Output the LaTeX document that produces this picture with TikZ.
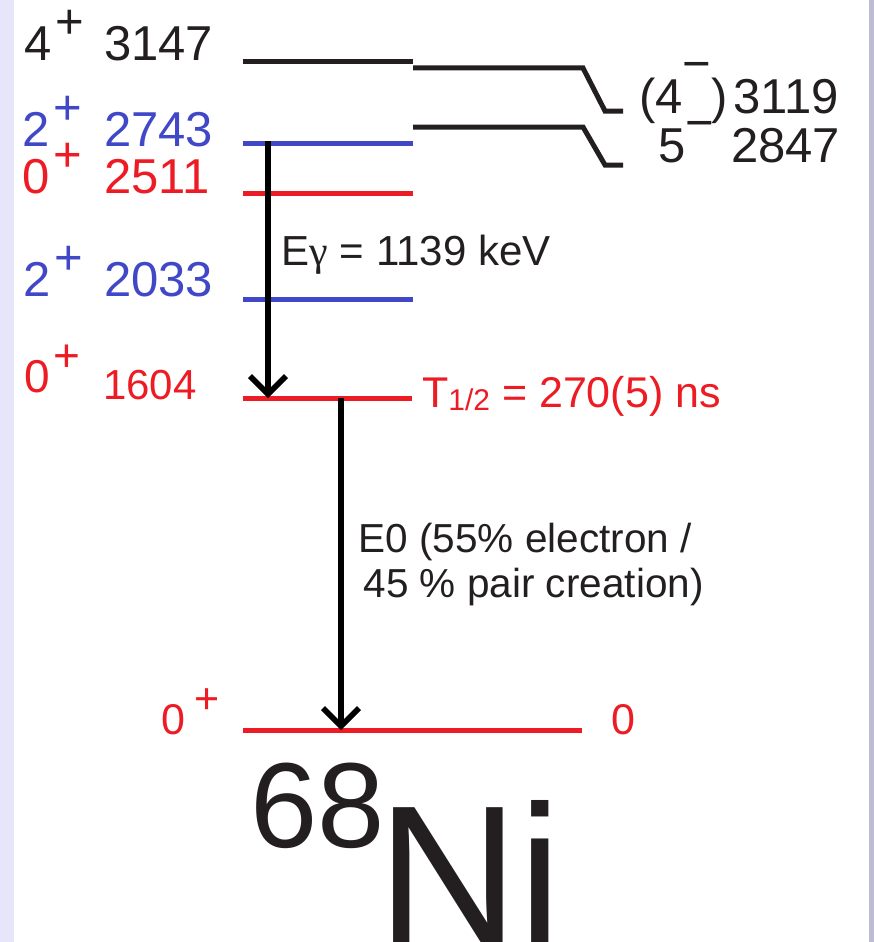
\documentclass[tikz,border=0pt]{standalone}
\usepackage{fontspec}
\setmainfont{Liberation Sans}
\newfontfamily\greekfont{Liberation Serif}
\usepackage{xcolor}
\usepackage{tikz}
\usetikzlibrary{arrows.meta}
\definecolor{lvlred}{RGB}{237,28,36}
\definecolor{lvlblue}{RGB}{64,72,200}
\definecolor{lvlblack}{RGB}{35,31,32}
\definecolor{edgeleft}{RGB}{230,230,250}
\definecolor{edgeright}{RGB}{190,188,212}
\newcommand{\jp}[2][0.44em]{\hspace{4pt}\raisebox{#1}{#2}}
\tikzset{
  level/.style={line width=5pt},
  lbl/.style={anchor=base west, inner sep=0pt, font=\fontsize{49}{49}\selectfont},
  gtrans/.style={line width=5.5pt, black, -{Straight Barb[length=18pt, width=36pt]}}
}

\begin{document}
\begin{tikzpicture}[x=1pt, y=-1pt]
    \useasboundingbox (0,0) rectangle (874,942);
    \fill[white] (0,0) rectangle (874,942);
    \fill[edgeleft] (0,0) rectangle (14,942);
    \fill[edgeright] (869,0) rectangle (874,942);
    \clip (0,0) rectangle (874,942);

    % level ends
    \coordinate (a3147) at (243,62);  \coordinate (b3147) at (413,62);
    \coordinate (a3119) at (413,68);  \coordinate (k3119) at (583,68);
    \coordinate (d3119) at (605,111); \coordinate (b3119) at (623,111);
    \coordinate (a2847) at (413,127); \coordinate (k2847) at (583,127);
    \coordinate (d2847) at (605,165); \coordinate (b2847) at (623,165);
    \coordinate (a2743) at (243,143); \coordinate (b2743) at (413,143);
    \coordinate (a2511) at (243,193); \coordinate (b2511) at (413,193);
    \coordinate (a2033) at (243,299); \coordinate (b2033) at (413,299);
    \coordinate (a1604) at (243,398); \coordinate (b1604) at (412,398);
    \coordinate (a0) at (243,730);    \coordinate (b0) at (582,730);

    \draw[level, lvlblack] (a3147) -- (b3147);
    \draw[level, lvlblack] (a3119) -- (k3119) -- (d3119) -- (b3119);
    \draw[level, lvlblack] (a2847) -- (k2847) -- (d2847) -- (b2847);
    \draw[level, lvlblue] (a2743) -- (b2743);
    \draw[level, lvlred] (a2511) -- (b2511);
    \draw[level, lvlblue] (a2033) -- (b2033);
    \draw[level, lvlred] (a1604) -- (b1604);
    \draw[level, lvlred] (a0) -- (b0);

    % transitions
    \coordinate (gfrom) at (268,141);
    \coordinate (gto) at (268,398);
    \coordinate (zfrom) at (341,398);
    \coordinate (zto) at (341,730);
    \draw[gtrans] (gfrom) -- (gto);
    \draw[gtrans] (zfrom) -- (zto);

    % spins and energies
    \node[lbl, lvlblack] (s3147) at (24,60) {4\jp{+}};
    \node[lbl, lvlblack] (e3147) at (104,60) {3147};
    \node[lbl, lvlblue] (s2743) at (22,146) {2\jp{+}};
    \node[lbl, lvlblue] (e2743) at (104,146) {2743};
    \node[lbl, lvlred] (s2511) at (22,193) {0\jp{+}};
    \node[lbl, lvlred] (e2511) at (104,193) {2511};
    \node[lbl, lvlblue] (s2033) at (23,296) {2\jp{+}};
    \node[lbl, lvlblue] (e2033) at (104,296) {2033};
    \node[lbl, lvlred, font=\fontsize{46}{46}\selectfont] (s1604) at (24,392) {0\jp{+}};
    \node[lbl, lvlred, font=\fontsize{42}{42}\selectfont] (e1604) at (103,399) {1604};
    \node[lbl, lvlred, font=\fontsize{43}{43}\selectfont] (s0) at (161,734) {0\hspace{5pt}\jp[0.47em]{+}};
    \node[lbl, lvlred, font=\fontsize{43}{43}\selectfont] (e0) at (611,734) {0};

    \node[lbl, lvlblack] (s3119) at (639,113) {(4\raisebox{0.66em}{−})};
    \node[lbl, lvlblack] (e3119) at (733,113) {3119};
    \node[lbl, lvlblack] (s2847) at (658,162) {5\raisebox{0.45em}{−}};
    \node[lbl, lvlblack] (e2847) at (731,162) {2847};

    % transition labels
    \node[lbl, lvlred, font=\fontsize{43}{43}\selectfont] (thalf) at (422,407)
        {T\raisebox{-3pt}{\fontsize{30}{30}\selectfont 1/2} = 270(5) ns};
    \node[lbl, lvlblack, font=\fontsize{42}{42}\selectfont] (egam) at (281.5,265)
        {E{\greekfont γ} = 1139 keV};
    \node[lbl, lvlblack, font=\fontsize{40.5}{40.5}\selectfont] (ezeroa) at (358.5,552)
        {E0 (55\% electron /};
    \node[lbl, lvlblack, font=\fontsize{40.5}{40.5}\selectfont] (ezerob) at (363.5,597)
        {45 \% pair creation)};

    % nucleus
    \node[lbl, lvlblack, font=\fontsize{121}{121}\selectfont] (mass) at (250,847) {68};
    \node[lbl, lvlblack, font=\fontsize{196}{196}\selectfont] (elem) at (377,942) {Ni};
\end{tikzpicture}
\end{document}
